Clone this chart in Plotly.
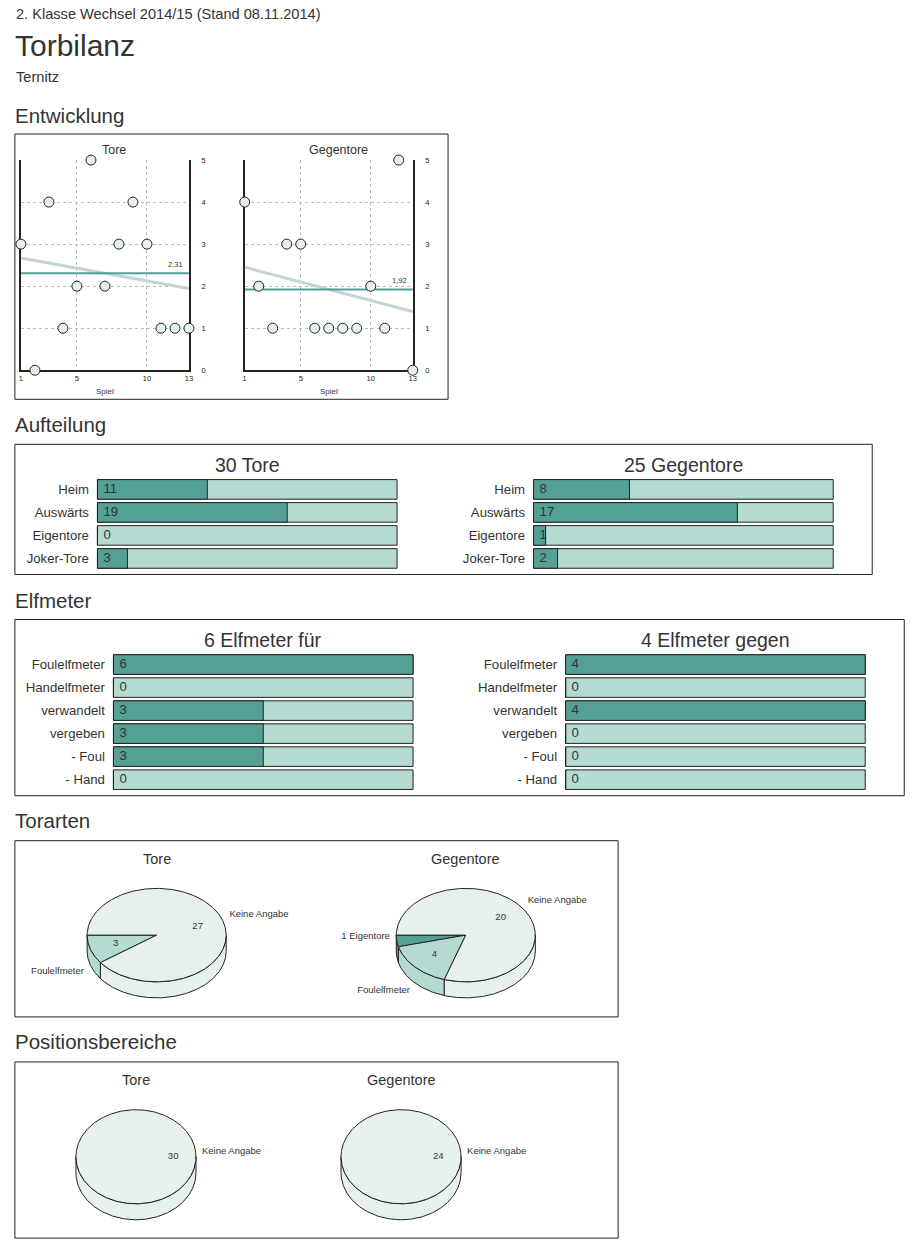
import numpy as np
import plotly.graph_objects as go

W, H = 920, 1246
FONT = "Liberation Sans, Arial, sans-serif"
TXT = "#333333"
DARK = "#55A095"
LIGHT = "#B5DAD2"
PALE = "#E6F0ED"
TREND = "#C3D5D2"
LINE = "#222222"

# ---------------- data ----------------
spiele = list(range(1, 14))
tore_pro_spiel = [3, 0, 4, 1, 2, 5, 2, 3, 4, 3, 1, 1, 1]
gegentore_pro_spiel = [4, 2, 1, 3, 3, 1, 1, 1, 1, 2, 1, 5, 0]
spiel_ticks = [1, 5, 10, 13]
tor_ticks = [0, 1, 2, 3, 4, 5]

aufteilung_labels = ["Heim", "Auswärts", "Eigentore", "Joker-Tore"]
aufteilung_tore = [11, 19, 0, 3]
aufteilung_gegentore = [8, 17, 1, 2]
tore_gesamt = 30
gegentore_gesamt = 25

elfmeter_labels = ["Foulelfmeter", "Handelfmeter", "verwandelt", "vergeben", "- Foul", "- Hand"]
elfmeter_fuer = [6, 0, 3, 3, 3, 0]
elfmeter_gegen = [4, 0, 4, 0, 0, 0]
elfmeter_fuer_gesamt = 6
elfmeter_gegen_gesamt = 4

torarten_tore_labels = ["Foulelfmeter", "Keine Angabe"]
torarten_tore_values = [3, 27]
torarten_gegentore_labels = ["Eigentore", "Foulelfmeter", "Keine Angabe"]
torarten_gegentore_values = [1, 4, 20]

positionen_tore_labels = ["Keine Angabe"]
positionen_tore_values = [30]
positionen_gegentore_labels = ["Keine Angabe"]
positionen_gegentore_values = [24]

slice_colors = {"Keine Angabe": PALE, "Foulelfmeter": LIGHT, "Eigentore": DARK}

# ---------------- helpers ----------------
# small calibration of the page placement (layout only)
CAL_OX, CAL_OY, CAL_SX, CAL_SY = 2.1, 4.1, 0.9931, 0.9918

def PX(x):
    return min(1.0, max(0.0, (x - CAL_OX) / CAL_SX / W))

def PY(y):
    return min(1.0, max(0.0, 1 - (y - CAL_OY) / CAL_SY / H))

def dom_x(x0, x1):
    return [PX(x0), PX(x1)]

def dom_y(y0, y1):
    return [PY(y1), PY(y0)]

fig = go.Figure()
layout = dict(
    width=W, height=H, margin=dict(l=0, r=0, t=0, b=0),
    paper_bgcolor="white", plot_bgcolor="rgba(0,0,0,0)",
    showlegend=False, barmode="overlay",
    font=dict(family=FONT, color=TXT),
)
annotations = []
shapes = []

def ax_names(n):
    return ("xaxis" if n == 1 else f"xaxis{n}", "yaxis" if n == 1 else f"yaxis{n}",
            "x" if n == 1 else f"x{n}", "y" if n == 1 else f"y{n}")

def text(x, y, s, size, xanchor="left", color=TXT):
    annotations.append(dict(x=PX(x), y=PY(y), xref="paper", yref="paper", text=s,
                            showarrow=False, xanchor=xanchor, yanchor="middle",
                            font=dict(size=size, color=color, family=FONT)))

def box(x0, y0, x1, y1):
    shapes.append(dict(type="rect", xref="paper", yref="paper", x0=PX(x0), x1=PX(x1),
                       y0=PY(y1), y1=PY(y0), line=dict(color=LINE, width=1)))

# ---------------- page texts ----------------
text(14, 14, "2. Klasse Wechsel 2014/15 (Stand 08.11.2014)", 14.6)
text(13, 46, "Torbilanz", 30)
text(14, 77, "Ternitz", 14.6)
text(13, 115, "Entwicklung", 20.5)
text(13, 424, "Aufteilung", 20.5)
text(13, 600, "Elfmeter", 20.5)
text(13, 820, "Torarten", 20.5)
text(13, 1041, "Positionsbereiche", 20.5)

box(15, 134, 448, 399)
box(15, 444, 872, 574)
box(15, 619, 904, 795)
box(15, 840, 618, 1016)
box(15, 1061, 618, 1237)

# ---------------- Entwicklung ----------------
def entwicklung(n, values, x0, x1, title, title_cx):
    xa, ya, xr, yr = ax_names(n)
    coef = np.polyfit(spiele, values, 1)
    tx = [spiele[0], spiele[-1]]
    fig.add_trace(go.Scatter(x=tx, y=np.polyval(coef, tx), mode="lines",
                             line=dict(color=TREND, width=3), xaxis=xr, yaxis=yr, hoverinfo="skip"))
    m = float(np.mean(values))
    fig.add_trace(go.Scatter(x=tx, y=[m, m], mode="lines", line=dict(color=DARK, width=2),
                             xaxis=xr, yaxis=yr, hoverinfo="skip"))
    annotations.append(dict(x=spiele[-1], y=m, xref=xr, yref=yr, text=f"{m:.2f}".replace(".", ","),
                            showarrow=False, xanchor="right", yanchor="middle", xshift=-4, yshift=9,
                            font=dict(size=7.5, color=TXT, family=FONT)))
    fig.add_trace(go.Scatter(x=spiele, y=values, mode="markers",
                             marker=dict(size=10, color=PALE, line=dict(color=LINE, width=1)),
                             xaxis=xr, yaxis=yr, cliponaxis=False))
    common = dict(showgrid=True, gridcolor="#BBBBBB", griddash="3px,3px", gridwidth=1,
                  showline=True, linecolor=LINE, linewidth=2, zeroline=False, ticks="",
                  tickfont=dict(size=7.5, color=LINE), layer="below traces", fixedrange=True)
    layout[xa] = dict(domain=dom_x(x0, x1), range=[1, 13], tickvals=spiel_ticks, anchor=yr, **common)
    layout[ya] = dict(domain=dom_y(160, 370), range=[0, 5], tickvals=tor_ticks, side="right",
                      mirror=True, anchor=xr, ticklabelstandoff=9, **common)
    text(title_cx, 150, title, 12.5, "center")
    text((x0 + x1) / 2, 391, "Spiel", 8, "center", "#333355")

entwicklung(1, tore_pro_spiel, 21, 189, "Tore", 114)
entwicklung(2, gegentore_pro_spiel, 244.7, 412.7, "Gegentore", 338)

# ---------------- bars ----------------
def balken(n, labels, values, total, x0, x1, yc0, title):
    xa, ya, xr, yr = ax_names(n)
    k = len(labels)
    idx = list(range(k))
    fig.add_trace(go.Bar(x=[total] * k, y=idx, orientation="h", width=0.85,
                         marker=dict(color=LIGHT, line=dict(color=LINE, width=1)),
                         xaxis=xr, yaxis=yr, hoverinfo="skip"))
    fig.add_trace(go.Bar(x=values, y=idx, orientation="h", width=0.85,
                         marker=dict(color=DARK, line=dict(color=LINE, width=1)),
                         xaxis=xr, yaxis=yr))
    pad = total * 0.005
    span = x1 - x0
    text_off = total * 6.0 / span
    fig.add_trace(go.Scatter(x=[text_off] * k, y=idx, mode="text", text=[str(v) for v in values],
                             textposition="middle right", textfont=dict(size=13.2, color=TXT),
                             xaxis=xr, yaxis=yr, cliponaxis=False, hoverinfo="skip"))
    layout[xa] = dict(domain=dom_x(x0 - span * 0.005, x1 + span * 0.005), range=[-pad, total + pad],
                      visible=False, anchor=yr, fixedrange=True)
    pitch = 23
    layout[ya] = dict(domain=dom_y(yc0 - pitch / 2, yc0 + pitch * (k - 0.5)),
                      range=[k - 0.5, -0.5], tickvals=idx, ticktext=labels, ticks="",
                      showgrid=False, zeroline=False, showline=False, anchor=xr,
                      ticklabelstandoff=6, tickfont=dict(size=13.2, color=TXT), fixedrange=True)
    text((x0 + x1) / 2, yc0 - 24.5, title, 19.5, "center")

balken(3, aufteilung_labels, aufteilung_tore, tore_gesamt, 97.5, 397, 489, f"{tore_gesamt} Tore")
balken(4, aufteilung_labels, aufteilung_gegentore, gegentore_gesamt, 533.5, 833, 489,
       f"{gegentore_gesamt} Gegentore")
balken(5, elfmeter_labels, elfmeter_fuer, elfmeter_fuer_gesamt, 113.5, 413, 664,
       f"{elfmeter_fuer_gesamt} Elfmeter für")
balken(6, elfmeter_labels, elfmeter_gegen, elfmeter_gegen_gesamt, 565.5, 865, 664,
       f"{elfmeter_gegen_gesamt} Elfmeter gegen")

# ---------------- 3D pies ----------------
def arc(t0, t1, dy=0.0):
    t = np.radians(np.linspace(t0, t1, max(3, int(abs(t1 - t0) * 2))))
    return np.cos(t), np.sin(t) + dy

def torte(n, labels, values, cx, cy, a, b, d, title, title_cx, title_cy):
    xa, ya, xr, yr = ax_names(n)
    D = d / b
    total = float(sum(values))
    angles = [180.0]
    for v in values:
        angles.append(angles[-1] + 360.0 * v / total)
    # sides (front half)
    for i, lab in enumerate(labels):
        s0, s1 = max(angles[i], 180.0), min(angles[i + 1], 360.0)
        if s1 <= s0:
            continue
        ux, uy = arc(s0, s1)
        lx, ly = arc(s1, s0, -D)
        fig.add_trace(go.Scatter(x=np.r_[ux, lx, ux[:1]], y=np.r_[uy, ly, uy[:1]], mode="lines",
                                 fill="toself", fillcolor=slice_colors[lab],
                                 line=dict(color=LINE, width=1), xaxis=xr, yaxis=yr, hoverinfo="skip"))
    # top faces
    for i, lab in enumerate(labels):
        ux, uy = arc(angles[i], angles[i + 1])
        if values[i] >= total:
            xs, ys = ux, uy
        else:
            xs, ys = np.r_[0, ux, 0], np.r_[0, uy, 0]
        fig.add_trace(go.Scatter(x=xs, y=ys, mode="lines", fill="toself",
                                 fillcolor=slice_colors[lab], line=dict(color=LINE, width=1),
                                 xaxis=xr, yaxis=yr, hoverinfo="skip"))
    # labels
    for i, lab in enumerate(labels):
        mid = np.radians((angles[i] + angles[i + 1]) / 2)
        c, s = np.cos(mid), np.sin(mid)
        frac = values[i] / total
        outer = lab
        if frac < 0.05:
            outer = f"{values[i]} {lab}"
        else:
            fig.add_trace(go.Scatter(x=[0.62 * c], y=[0.62 * s], mode="text", text=[str(values[i])],
                                     textposition="middle center", textfont=dict(size=9.5, color=TXT),
                                     xaxis=xr, yaxis=yr, cliponaxis=False, hoverinfo="skip"))
        ox, oy = 1.1 * c, 1.1 * s
        vpos = "top"
        if s < -0.2:
            oy -= D
            vpos = "bottom"
        hpos = "right" if c >= 0 else "left"
        fig.add_trace(go.Scatter(x=[ox], y=[oy], mode="text", text=[outer],
                                 textposition=f"{vpos} {hpos}", textfont=dict(size=9.5, color=TXT),
                                 xaxis=xr, yaxis=yr, cliponaxis=False, hoverinfo="skip"))
    rx, ry = 1.6, 1.25
    layout[xa] = dict(domain=dom_x(cx - rx * a, cx + rx * a), range=[-rx, rx], visible=False,
                      anchor=yr, fixedrange=True)
    layout[ya] = dict(domain=dom_y(cy - ry * b, cy + (ry + D) * b), range=[-ry - D, ry], visible=False,
                      anchor=xr, fixedrange=True)
    text(title_cx, title_cy, title, 14.5, "center")

torte(7, torarten_tore_labels, torarten_tore_values, 156.7, 934.3, 69.5, 46.7, 16, "Tore", 156.7, 858)
torte(8, torarten_gegentore_labels, torarten_gegentore_values, 465.7, 934.3, 69.5, 46.7, 16,
      "Gegentore", 465.7, 858)
torte(9, positionen_tore_labels, positionen_tore_values, 136, 1155.7, 60, 47, 16, "Tore", 136, 1079)
torte(10, positionen_gegentore_labels, positionen_gegentore_values, 401, 1155.7, 60, 47, 16,
      "Gegentore", 401, 1079)

layout["annotations"] = annotations
layout["shapes"] = shapes
fig.update_layout(**layout)

post = (
    "document.documentElement.style.margin='0';document.documentElement.style.padding='0';"
    "document.body.style.margin='0';document.body.style.padding='0';"
    "document.body.style.overflow='hidden';"
    "var d=document.getElementById('{plot_id}');"
    "d.style.position='absolute';d.style.left='0px';d.style.top='0px';"
)
fig.write_html("out.html", config={"displayModeBar": False, "staticPlot": True}, post_script=post)
